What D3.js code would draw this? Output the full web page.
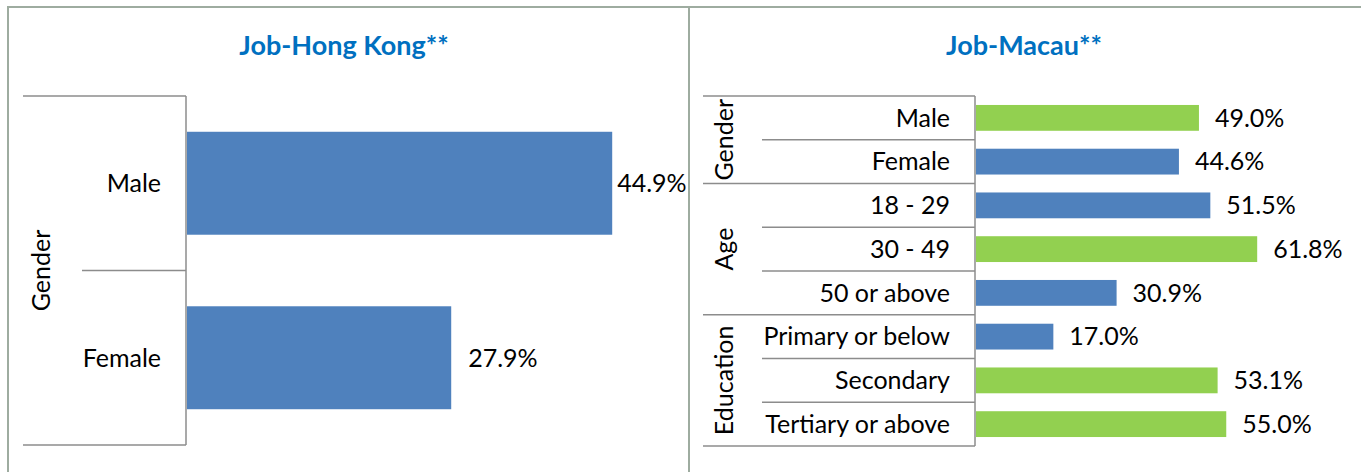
<!DOCTYPE html>
<html>
<head>
<meta charset="utf-8">
<script src="https://cdn.jsdelivr.net/npm/d3@7"></script>
<style>
  body { margin: 0; background: #fff; }
  text { font-family: Lato, "Open Sans", sans-serif; fill: #000; }
</style>
</head>
<body>
<svg id="chart" width="1361" height="472"></svg>
<script>
// Hong Kong panel
var hkCategories = ["Male", "Female"];
var hkGroups = [{name: "Gender", count: 2}];
var hkValues = [44.9, 27.9];

// Macau panel
var mcCategories = ["Male", "Female", "18 - 29", "30 - 49", "50 or above",
    "Primary or below", "Secondary", "Tertiary or above"];
var mcGroups = [{name: "Gender", count: 2}, {name: "Age", count: 3}, {name: "Education", count: 3}];
var mcValues = [49.0, 44.6, 51.5, 61.8, 30.9, 17.0, 53.1, 55.0];
var mcHigh = [true, false, false, true, false, false, true, true];

var blue = "#4f81bd", green = "#92d050", axisGrey = "#8c8c8c", frame = "#9eaca0";

var svg = d3.select("#chart");

// panel frame
svg.append("path")
    .attr("d", "M8,472 V7 H1361 M689,7 V472")
    .attr("fill", "none")
    .attr("stroke", frame)
    .attr("stroke-width", 2);

function panel(opt) {
    var g = svg.append("g");

    g.append("text")
        .attr("x", opt.titleX)
        .attr("y", 55)
        .attr("text-anchor", "middle")
        .style("font-size", "27px")
        .style("font-weight", "bold")
        .style("fill", "#0070c0")
        .text(opt.title);

    var y = d3.scaleBand()
        .domain(opt.categories)
        .range([opt.top, opt.bottom]);

    var x = d3.scaleLinear()
        .domain(opt.domain)
        .range([opt.axisX + 1, opt.xMax]);

    var barH = y.bandwidth() * 0.59;

    g.selectAll(".bar")
        .data(opt.values)
        .enter().append("rect")
        .attr("x", x(0))
        .attr("y", function(d, i) { return y(opt.categories[i]) + (y.bandwidth() - barH) / 2; })
        .attr("width", function(d) { return x(d) - x(0); })
        .attr("height", barH)
        .attr("fill", function(d, i) { return opt.colour(i); });

    // value labels, pulled in when they would run past the panel
    g.selectAll(".val")
        .data(opt.values)
        .enter().append("text")
        .attr("y", function(d, i) { return y(opt.categories[i]) + y.bandwidth() / 2; })
        .attr("dy", "0.35em")
        .style("font-size", opt.fontSize)
        .text(function(d) { return d.toFixed(1) + "%"; })
        .attr("x", function(d) {
            var w = this.getComputedTextLength();
            return Math.max(x(d) + 5, Math.min(x(d) + opt.labelGap, opt.labelMax - w));
        });

    // category labels
    g.selectAll(".cat")
        .data(opt.categories)
        .enter().append("text")
        .attr("x", opt.axisX - 25)
        .attr("y", function(d) { return y(d) + y.bandwidth() / 2; })
        .attr("dy", "0.35em")
        .attr("text-anchor", "end")
        .style("font-size", opt.fontSize)
        .text(function(d) { return d; });

    // row separators: long at group edges, short inside groups
    var start = 0;
    var edges = [{i: 0, long: true}];
    opt.groups.forEach(function(gr) {
        for (var k = 1; k < gr.count; k++) edges.push({i: start + k, long: false});
        start += gr.count;
        edges.push({i: start, long: true});
    });

    g.selectAll(".sep")
        .data(edges)
        .enter().append("line")
        .attr("x1", function(d) { return d.long ? opt.groupX0 : opt.groupX1; })
        .attr("x2", opt.axisX)
        .attr("y1", function(d) { return opt.top + d.i * y.step(); })
        .attr("y2", function(d) { return opt.top + d.i * y.step(); })
        .attr("stroke", axisGrey)
        .attr("stroke-width", 1.5);

    g.append("line")
        .attr("x1", opt.axisX).attr("x2", opt.axisX)
        .attr("y1", opt.top).attr("y2", opt.bottom)
        .attr("stroke", axisGrey)
        .attr("stroke-width", 1.5);

    // group labels (rotated)
    start = 0;
    opt.groups.forEach(function(gr) {
        var cy = opt.top + (start + gr.count / 2) * y.step();
        g.append("text")
            .attr("transform", "translate(" + opt.groupTextX + "," + cy + ") rotate(-90)")
            .attr("text-anchor", "middle")
            .style("font-size", opt.fontSize)
            .text(gr.name);
        start += gr.count;
    });
}

panel({
    title: "Job-Hong Kong**", titleX: 344,
    categories: hkCategories, groups: hkGroups, values: hkValues,
    colour: function() { return blue; },
    top: 96, bottom: 445, axisX: 186,
    domain: [0, 50], xMax: 660.5,
    groupX0: 23, groupX1: 82, groupTextX: 50,
    labelGap: 17, labelMax: 681, fontSize: "25px"
});

panel({
    title: "Job-Macau**", titleX: 1024,
    categories: mcCategories, groups: mcGroups, values: mcValues,
    colour: function(i) { return mcHigh[i] ? green : blue; },
    top: 96, bottom: 446, axisX: 975,
    domain: [0, 70], xMax: 1294.5,
    groupX0: 703, groupX1: 762, groupTextX: 733,
    labelGap: 16, labelMax: 1361, fontSize: "25px"
});
</script>
</body>
</html>
